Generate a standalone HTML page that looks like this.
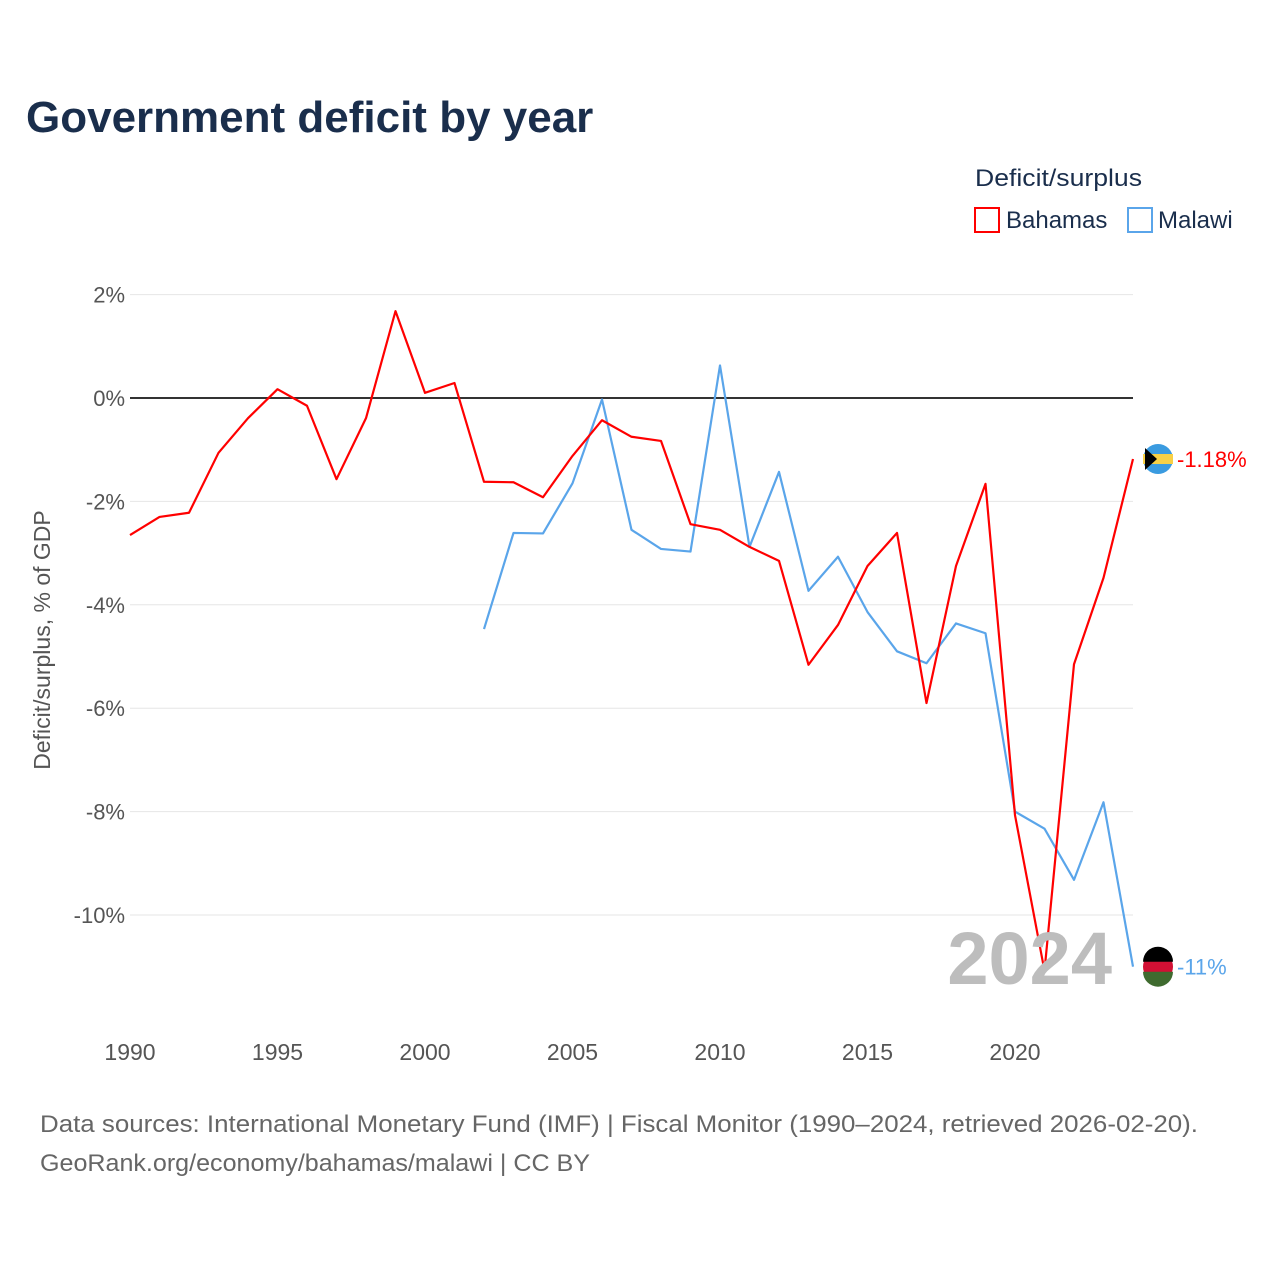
<!DOCTYPE html>
<html><head><meta charset="utf-8"><style>
body{margin:0;background:#fff;font-family:"Liberation Sans",sans-serif}
svg text{font-family:"Liberation Sans",sans-serif}
</style></head><body>
<svg id="chart" width="1280" height="1280" viewBox="0 0 1280 1280" xmlns="http://www.w3.org/2000/svg">
<rect width="1280" height="1280" fill="#fff"/>
<text x="26" y="132" font-size="44" font-weight="bold" fill="#1a2e4c">Government deficit by year</text>
<text x="975" y="186" font-size="24" fill="#1a2e4c" textLength="167" lengthAdjust="spacingAndGlyphs">Deficit/surplus</text>
<g><rect x="975" y="208" width="24" height="24" fill="none" stroke="#ff0000" stroke-width="2"/><text x="1006" y="228" font-size="24" fill="#1a2e4c">Bahamas</text></g>
<g><rect x="1128" y="208" width="24" height="24" fill="none" stroke="#5aa5ea" stroke-width="2"/><text x="1158" y="228" font-size="24" fill="#1a2e4c">Malawi</text></g>
<g id="grid"></g><g id="series"></g><g id="ends"></g>
<text x="1112" y="984" font-size="74" font-weight="bold" fill="#bdbdbd" text-anchor="end">2024</text>
<text transform="translate(50,640) rotate(-90)" font-size="23" fill="#555" text-anchor="middle">Deficit/surplus, % of GDP</text>
<text x="40" y="1132" font-size="24" fill="#666" textLength="1158" lengthAdjust="spacingAndGlyphs">Data sources: International Monetary Fund (IMF) | Fiscal Monitor (1990–2024, retrieved 2026-02-20).</text>
<text x="40" y="1171" font-size="24" fill="#666" textLength="550" lengthAdjust="spacingAndGlyphs">GeoRank.org/economy/bahamas/malawi | CC BY</text>
</svg>
<script>
const years=[1990,1991,1992,1993,1994,1995,1996,1997,1998,1999,2000,2001,2002,2003,2004,2005,2006,2007,2008,2009,2010,2011,2012,2013,2014,2015,2016,2017,2018,2019,2020,2021,2022,2023,2024];
const bahamas=[-2.65,-2.3,-2.22,-1.06,-0.39,0.17,-0.15,-1.57,-0.39,1.68,0.1,0.29,-1.62,-1.63,-1.92,-1.12,-0.43,-0.75,-0.83,-2.44,-2.55,-2.88,-3.15,-5.16,-4.39,-3.25,-2.61,-5.9,-3.25,-1.66,-8.07,-11.08,-5.15,-3.48,-1.18];
const malawi=[null,null,null,null,null,null,null,null,null,null,null,null,-4.47,-2.61,-2.62,-1.65,-0.03,-2.55,-2.92,-2.97,0.63,-2.88,-1.43,-3.73,-3.07,-4.14,-4.9,-5.13,-4.36,-4.55,-8.0,-8.33,-9.32,-7.82,-11.0];
const yTicks=[2,0,-2,-4,-6,-8,-10];
const xTicks=[1990,1995,2000,2005,2010,2015,2020];
const NS="http://www.w3.org/2000/svg";
const x=v=>130+(v-1990)*29.5;
const y=v=>398-v*51.7;
function mk(t,a,p){const e=document.createElementNS(NS,t);for(const k in a)e.setAttribute(k,a[k]);p.appendChild(e);return e;}
const g=document.getElementById('grid');
yTicks.forEach(t=>{
  const l=mk('line',{x1:130,x2:1133,y1:y(t),y2:y(t),stroke:t===0?'#333':'#e6e6e6','stroke-width':t===0?2:1},g);
  
  
  const tx=mk('text',{x:125,y:y(t)+8,'font-size':22,fill:'#555','text-anchor':'end'},g);
  tx.textContent=t+'%';
  
  
});
xTicks.forEach(t=>{
  const tx=mk('text',{x:x(t),y:1060,'font-size':23,fill:'#555','text-anchor':'middle'},g);
  tx.textContent=t;
  
  
});
const s=document.getElementById('series');
function line(vals,color,name){
  let d='',pen=false;
  vals.forEach((v,i)=>{if(v===null){pen=false;return;}d+=(pen?'L':'M')+x(years[i])+','+y(v);pen=true;});
  const p=mk('path',{d:d,fill:'none',stroke:color,'stroke-width':2.2,'stroke-linejoin':'round'},s);
  
  
}
line(malawi,'#5aa5ea','malawi-line');
line(bahamas,'#ff0000','bahamas-line');
const e=document.getElementById('ends');
function end(v,color,name,label,flag){
  const cy=y(v);
  const c=mk('g',{},e);
  
  
  if(flag==='bs'){
    mk('circle',{cx:1158,cy:cy,r:15,fill:'#3a9be0'},c);
    mk('rect',{x:1143,y:cy-5,width:30,height:10,fill:'#f7d046'},c);
    mk('path',{d:`M1145,${cy-11} L1157,${cy} L1145,${cy+11} Z`,fill:'#000'},c);
  } else {
    mk('circle',{cx:1158,cy:cy,r:15,fill:'#d21034'},c);
    mk('path',{d:`M1143,${cy-5} A15,15 0 0 1 1173,${cy-5} Z`,fill:'#000'},c);
    mk('path',{d:`M1143,${cy+5} A15,15 0 0 0 1173,${cy+5} Z`,fill:'#3f6b2f'},c);
  }
  const t=mk('text',{x:1177,y:cy+8,'font-size':22,fill:color},e);
  t.textContent=label;
  
  
}
end(bahamas[bahamas.length-1],'#ff0000','bahamas','-1.18%','bs');
end(malawi[malawi.length-1],'#5aa5ea','malawi','-11%','mw');
</script>
</body></html>
